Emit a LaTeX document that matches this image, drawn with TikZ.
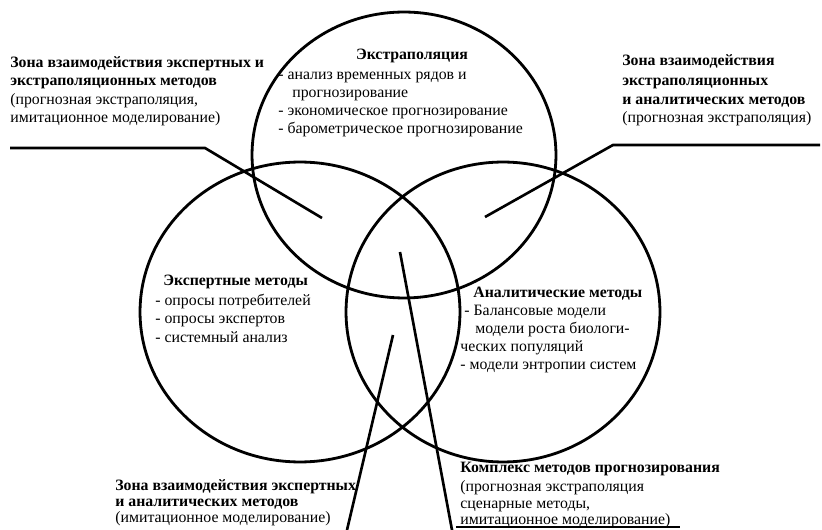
\documentclass[tikz,border=0pt]{standalone}
\usepackage{fontspec}
\setmainfont{Liberation Serif}
\begin{document}
\begin{tikzpicture}[x=0.02cm,y=-0.02cm,
  ring/.style={line width=1.6pt},
  leader/.style={line width=1.5pt},
  txt/.style={inner sep=0pt, anchor=base west, font=\fontsize{9}{10.5}\selectfont},
  ttl/.style={txt, font=\fontsize{9}{10.5}\selectfont\bfseries}]
\fill[white] (0,0) rectangle (822,530);
\useasboundingbox (0,0) rectangle (822,530);

% circles
\draw[ring] (404,155) ellipse [x radius=3.04cm, y radius=2.86cm];
\draw[ring] (300,312) ellipse [x radius=3.2cm, y radius=3.0cm];
\draw[ring] (503,312) ellipse [x radius=3.14cm, y radius=3.0cm];

% top circle text
\node[ttl, anchor=base] (ex0) at (412,60) {Экстраполяция};
\node[txt] (ex1) at (278,80) {- анализ временных рядов и};
\node[txt] (ex2) at (292,98) {прогнозирование};
\node[txt] (ex3) at (278,116) {- экономическое прогнозирование};
\node[txt] (ex4) at (278,134) {- барометрическое прогнозирование};

% left circle text
\node[ttl] (ep0) at (163,286) {Экспертные методы};
\node[txt] (ep1) at (155,306) {- опросы потребителей};
\node[txt] (ep2) at (155,324) {- опросы экспертов};
\node[txt] (ep3) at (155,342) {- системный анализ};

% right circle text
\node[ttl] (an0) at (473,298) {Аналитические методы};
\node[txt] (an1) at (464,316) {- Балансовые модели};
\node[txt] (an2) at (475,334) {модели роста биологи-};
\node[txt] (an3) at (460,352) {ческих популяций};
\node[txt] (an4) at (460,370) {- модели энтропии систем};

% top-left zone
\node[ttl] (tl1) at (10,68) {Зона взаимодействия экспертных и};
\node[ttl] (tl2) at (10,86) {экстраполяционных методов};
\node[txt] (tl3) at (10,105) {(прогнозная экстраполяция,};
\node[txt] (tl4) at (10,123) {имитационное моделирование)};
\coordinate (tlA) at (10,148);
\coordinate (tlB) at (205,148);
\coordinate (tlC) at (322,218);
\draw[leader] (tlA) -- (tlB) -- (tlC);

% top-right zone
\node[ttl] (tr1) at (622,66) {Зона взаимодействия};
\node[ttl] (tr2) at (622,86) {экстраполяционных};
\node[ttl] (tr3) at (622,105) {и аналитических методов};
\node[txt] (tr4) at (622,123) {(прогнозная экстраполяция)};
\coordinate (trA) at (820,145);
\coordinate (trB) at (613,145);
\coordinate (trC) at (485,217);
\draw[leader] (trA) -- (trB) -- (trC);

% bottom-left zone
\node[ttl] (bl1) at (115,490) {Зона взаимодействия экспертных};
\node[ttl] (bl2) at (115,506) {и аналитических методов};
\node[txt] (bl3) at (115,522) {(имитационное моделирование)};
\coordinate (blA) at (347,530);
\coordinate (blB) at (393,335);
\draw[leader] (blA) -- (blB);

% bottom-right zone
\node[ttl] (br1) at (460,472) {Комплекс методов прогнозирования};
\node[txt] (br2) at (460,491) {(прогнозная экстраполяция};
\node[txt] (br3) at (460,508) {сценарные методы,};
\node[txt] (br4) at (460,524) {имитационное моделирование)};
\coordinate (brA) at (452,530);
\coordinate (brB) at (400,252);
\draw[leader] (brA) -- (brB);
\coordinate (ulA) at (456,527);
\coordinate (ulB) at (680,527);
\draw[line width=0.8pt] (ulA) -- (ulB);
\end{tikzpicture}
\end{document}
